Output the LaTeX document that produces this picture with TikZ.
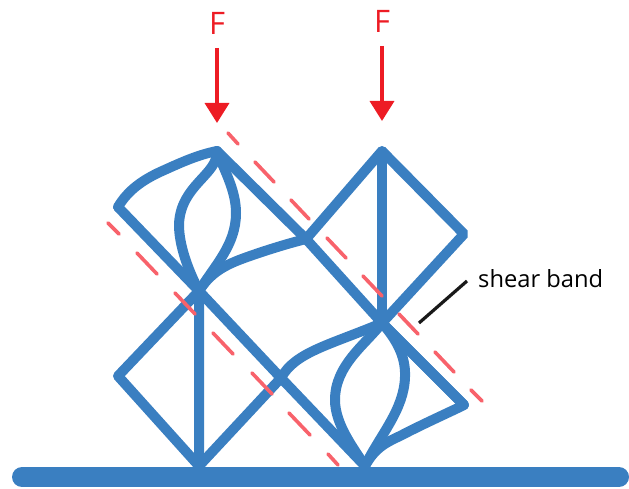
\documentclass[tikz,border=0pt]{standalone}
\usepackage{fontspec}
\setmainfont{Open Sans}
\usetikzlibrary{arrows.meta}
\definecolor{bluebar}{HTML}{3A7FC1}
\definecolor{forcered}{HTML}{ED1C24}
\definecolor{bandred}{HTML}{F8626B}
\tikzset{
  x=1pt,y=-1pt,
  strut/.style={draw=bluebar,line width=10pt,line join=round,line cap=round},
  peak/.style={draw=bluebar,line width=10pt,line join=bevel},
  band/.style={draw=bandred,line width=3.6pt,line cap=round},
  force/.style={draw=forcered,line width=3.6pt,-{Triangle[length=20pt,width=24pt]}},
  forcelabel/.style={text=forcered,font=\fontsize{31}{36}\selectfont,inner sep=0pt},
  lbl/.style={font=\fontsize{23.7}{28}\selectfont,inner sep=0pt},
  pt/.style={inner sep=0pt,minimum size=0pt}
}
\begin{document}
\begin{tikzpicture}
\useasboundingbox (0,0) rectangle (629,489);
\coordinate (T1) at (217,151); \coordinate (L1) at (118,207);
\coordinate (C1) at (199,291); \coordinate (R1) at (306,239);
\coordinate (T2) at (382,151); \coordinate (R2) at (464,234);
\coordinate (C2) at (382,323); \coordinate (L3) at (118,376);
\coordinate (B1) at (199,466); \coordinate (M) at (281,378);
\coordinate (B2) at (365,466); \coordinate (R3) at (464,405);
\coordinate (G1) at (22,477); \coordinate (G2) at (619,477);
% ground
\draw[bluebar,line width=20pt,line cap=round] (G1) -- (G2);
% struts
\draw[peak] (T1) -- (R1) -- (C2) -- (R3);
\draw[strut] (L1) -- (C1) -- (M) -- (B2);
\draw[peak] (C2) -- (R2) -- (T2) -- (R1);
\draw[strut] (T2) -- (C2);
\draw[strut] (C1) -- (L3) -- (B1) -- (C1);
\draw[strut] (B1) -- (M);
\draw[strut] (R3) -- (C2);
\draw[strut] (L1) .. controls (128,190) and (143,180) .. (160,172) .. controls (180,163) and (197,155) .. (T1);
\draw[strut] (T1) .. controls (218,175) and (180,185) .. (179,225) .. controls (179,245) and (188,270) .. (C1);
\draw[strut] (T1) .. controls (224,170) and (236,190) .. (236,213) .. controls (236,245) and (215,265) .. (C1);
\draw[strut] (C1) .. controls (212,270) and (230,263) .. (250,256) .. controls (270,249) and (290,243) .. (R1);
\draw[strut] (M) .. controls (295,352) and (330,345) .. (C2);
\draw[strut] (C2) .. controls (365,345) and (335,365) .. (335,400) .. controls (335,425) and (355,450) .. (B2);
\draw[strut] (C2) .. controls (395,338) and (406,355) .. (405,377) .. controls (404,410) and (380,435) .. (B2);
\draw[strut] (B2) .. controls (375,448) and (385,443) .. (400,436) .. controls (425,423) and (450,412) .. (R3);
% bands
\foreach \a/\b/\c/\d in {228/133/238/144,255/162/274/182,291/200/309/219,327/238/346/258,363/276/382/296,399/314/418/334,435/352/454/372,471/390/482/401,
 108/223/119/234,137/253/157/274,175/293/195/314,213/333/233/354,252/373/272/394,289/413/310/435,328/454/338/465}
  \draw[band] (\a,\b) -- (\c,\d);
% forces
\node[forcelabel] (F1) at (217,23) {F};
\node[forcelabel] (F2) at (382,21) {F};
\coordinate (A1s) at (217,48); \coordinate (A1e) at (217,123);
\coordinate (A2s) at (382,46); \coordinate (A2e) at (382,121);
\draw[force] (A1s) -- (A1e);
\draw[force] (A2s) -- (A2e);
% label
\node[lbl,anchor=west] (SB) at (478,279) {shear band};
\coordinate (Ls) at (467,281); \coordinate (Le) at (419,323);
\draw[black!90,line width=3.2pt] (Ls) -- (Le);
\end{tikzpicture}
\end{document}
